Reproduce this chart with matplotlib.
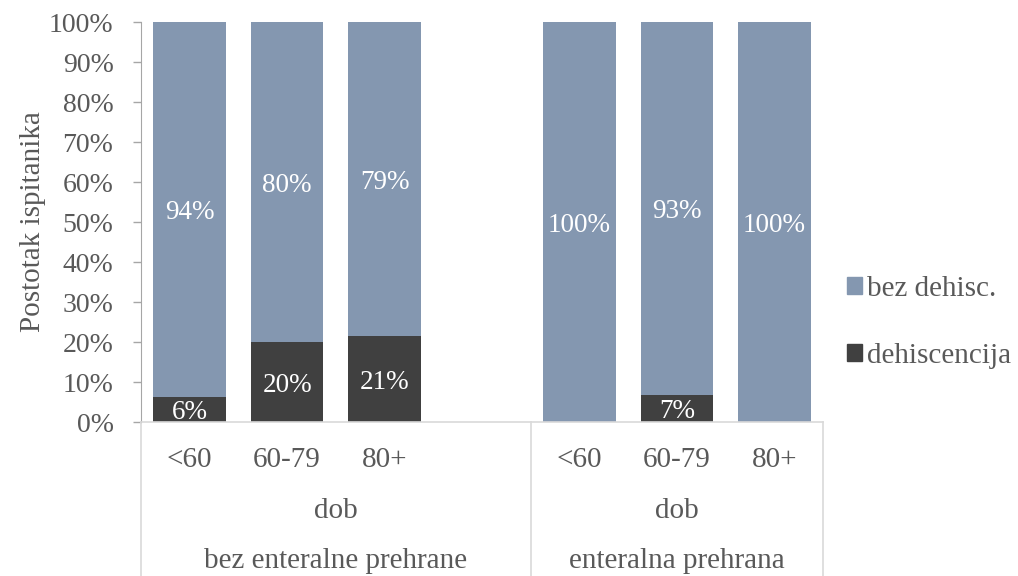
import matplotlib
matplotlib.use('agg')
import matplotlib.pyplot as plt
from matplotlib.patches import Patch
from matplotlib.transforms import blended_transform_factory

# podaci
groups = ['bez enteralne prehrane', 'enteralna prehrana']
ages = ['<60', '60-79', '80+']
level2 = 'dob'
series = ['bez dehisc.', 'dehiscencija']
# postotci po skupinama (redom: bez enteralne <60, 60-79, 80+, enteralna <60, 60-79, 80+)
bez_dehisc = [93.75, 80.0, 78.6, 100.0, 93.3, 100.0]
dehiscencija = [6.25, 20.0, 21.4, 0.0, 6.7, 0.0]
# prazno mjesto iza prve skupine
slots_per_group = [4, 3]

blue = '#8497B0'
dark = '#404040'
txt = '#595959'
line = '#D9D9D9'

plt.rcParams['font.family'] = ['Liberation Serif', 'DejaVu Serif']
plt.rcParams['font.size'] = 21

fig = plt.figure(figsize=(10.18, 5.76), dpi=100)
ax = fig.add_axes([141 / 1018, 1 - 422 / 576, 682 / 1018, 400 / 576])

# x pozicije stupaca
xs = []
starts = []
pos = 0
for n in slots_per_group:
    starts.append(pos)
    xs.extend(range(pos, pos + len(ages)))
    pos += n

width = 0.744
b1 = ax.bar(xs, dehiscencija, width, color=dark, label=series[1])
b2 = ax.bar(xs, bez_dehisc, width, bottom=dehiscencija, color=blue, label=series[0])

lbl = ax.bar_label(b1, labels=['%d%%' % round(v) if v > 0 else '' for v in dehiscencija],
                   label_type='center', color='white', fontsize=19.5)
lbl += ax.bar_label(b2, labels=['%d%%' % round(v) if v > 0 else '' for v in bez_dehisc],
                    label_type='center', color='white', fontsize=19.5)
for t in lbl:
    t.set_verticalalignment('center_baseline')

ax.set_xlim(-0.5, pos - 0.5)
ax.set_ylim(0, 100)
ax.set_yticks(range(0, 101, 10))
ax.set_yticklabels(['%d%%' % v for v in range(0, 101, 10)], color=txt, fontsize=20)
ax.tick_params(axis='y', length=5.8, width=1, color='#A6A6A6', pad=14)
ax.set_xticks([])

for s in ['top', 'right']:
    ax.spines[s].set_visible(False)
ax.spines['left'].set_color('#A6A6A6')
ax.spines['bottom'].set_color(line)
ax.spines['bottom'].set_linewidth(1.2)

ax.set_ylabel('Postotak ispitanika', color=txt, fontsize=21)
ax.yaxis.set_label_coords(-0.14, 0.5)

# kategorije na x osi (dvije razine)
tr = blended_transform_factory(ax.transData, ax.transAxes)
for x, lab in zip(xs, ages * len(groups)):
    ax.text(x, -0.1125, lab, transform=tr, ha='center', va='baseline', color=txt)
for g, start, n in zip(groups, starts, slots_per_group):
    mid = start + (n - 1) / 2
    ax.text(mid, -0.24, level2, transform=tr, ha='center', va='baseline', color=txt)
    ax.text(mid, -0.365, g, transform=tr, ha='center', va='baseline', color=txt)
bounds = [s - 0.5 for s in starts] + [pos - 0.5]
for b in bounds:
    ax.plot([b, b], [0, -0.39], transform=tr, color=line, lw=1.2, clip_on=False)

handles = [Patch(color=blue), Patch(color=dark)]
fig.legend(handles, series, loc='center left', bbox_to_anchor=(847 / 1018, 0.44),
           frameon=False, fontsize=21, handlelength=0.51, handleheight=0.51,
           handletextpad=0.17, labelspacing=1.4, borderpad=0, borderaxespad=0,
           labelcolor=txt)

plt.savefig('out.png', dpi=100)
